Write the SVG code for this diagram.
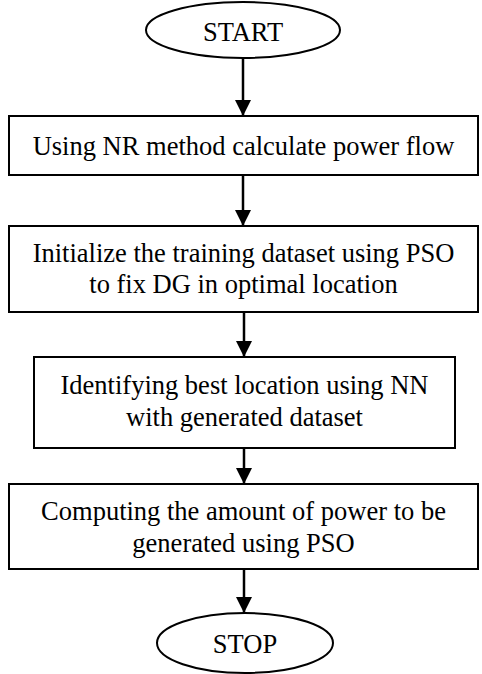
<svg xmlns="http://www.w3.org/2000/svg" width="482" height="674" viewBox="0 0 482 674">
<style>
.shape{fill:#fff;stroke:#000;stroke-width:2}
.lbl{font-family:'Liberation Serif','Times New Roman','DejaVu Serif',serif;font-size:26.5px;fill:#000;text-anchor:middle}
.conn{stroke:#000;stroke-width:2.5;fill:none;marker-end:url(#ah)}
</style>
<defs>
<marker id="ah" markerUnits="userSpaceOnUse" markerWidth="18" markerHeight="16" refX="16" refY="8" orient="auto">
<path d="M0,0 L16,8 L0,16 Z" fill="#000"/>
</marker>
</defs>
<g id="start">
<ellipse class="shape" cx="243" cy="30" rx="97" ry="28" stroke-width="1.5"/>
<text class="lbl" font-family="Liberation Serif, serif" x="243" y="41">START</text>
</g>
<g id="step1">
<rect class="shape" x="9" y="116" width="469" height="59"/>
<text class="lbl" font-family="Liberation Serif, serif" x="243.5" y="155">Using NR method calculate power flow</text>
</g>
<g id="step2">
<rect class="shape" x="9" y="226" width="469" height="86"/>
<text class="lbl" font-family="Liberation Serif, serif" x="243.5" y="262">Initialize the training dataset using PSO</text>
<text class="lbl" font-family="Liberation Serif, serif" x="243.5" y="293">to fix DG in optimal location</text>
</g>
<g id="step3">
<rect class="shape" x="34" y="357" width="421" height="91"/>
<text class="lbl" font-family="Liberation Serif, serif" x="244.5" y="394">Identifying best location using NN</text>
<text class="lbl" font-family="Liberation Serif, serif" x="244.5" y="426">with generated dataset</text>
</g>
<g id="step4">
<rect class="shape" x="9" y="484" width="469" height="85"/>
<text class="lbl" font-family="Liberation Serif, serif" x="243.5" y="520">Computing the amount of power to be</text>
<text class="lbl" font-family="Liberation Serif, serif" x="243.5" y="552">generated using PSO</text>
</g>
<g id="stop">
<ellipse class="shape" cx="245" cy="643" rx="88" ry="30" stroke-width="1.5"/>
<text class="lbl" font-family="Liberation Serif, serif" x="245" y="653">STOP</text>
</g>
<g id="connectors">
<line class="conn" x1="243" y1="58" x2="243" y2="116"/>
<line class="conn" x1="243" y1="175" x2="243" y2="226"/>
<line class="conn" x1="244" y1="312" x2="244" y2="357"/>
<line class="conn" x1="244" y1="448" x2="244" y2="484"/>
<line class="conn" x1="244" y1="569" x2="244" y2="613"/>
</g>
</svg>
